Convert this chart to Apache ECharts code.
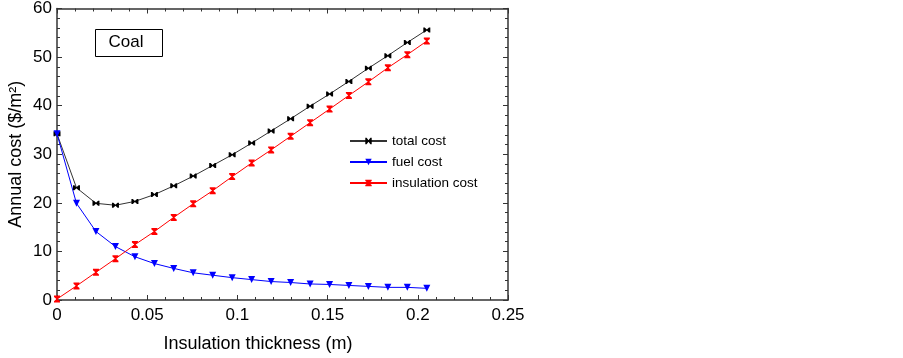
<!DOCTYPE html>
<html>
<head>
<meta charset="utf-8">
<script src="https://cdn.jsdelivr.net/npm/echarts@6/dist/echarts.min.js"></script>
<style>html,body{margin:0;padding:0;background:#fff}#c{width:903px;height:358px}</style>
</head>
<body>
<div id="c"></div>
<script>
const thickness = [0, 0.0108, 0.0216, 0.0324, 0.0432, 0.054, 0.0647, 0.0755, 0.0863, 0.0971, 0.1079, 0.1187, 0.1295, 0.1403, 0.1511, 0.1618, 0.1726, 0.1834, 0.1942, 0.205];
const totalCost = [34.2, 23.1, 19.9, 19.5, 20.3, 21.7, 23.5, 25.5, 27.7, 29.9, 32.3, 34.8, 37.3, 39.9, 42.4, 45.0, 47.7, 50.3, 53.0, 55.6];
const fuelCost = [34.2, 19.9, 14.1, 11.0, 8.9, 7.5, 6.5, 5.6, 5.1, 4.6, 4.2, 3.8, 3.6, 3.3, 3.2, 3.0, 2.8, 2.6, 2.6, 2.4];
const insulationCost = [0.2, 2.9, 5.7, 8.5, 11.4, 14.1, 17.0, 19.8, 22.5, 25.4, 28.2, 30.9, 33.7, 36.5, 39.3, 42.1, 44.9, 47.8, 50.5, 53.3];
const seriesNames = ['total cost', 'fuel cost', 'insulation cost'];
const xTicks = [0, 0.05, 0.1, 0.15, 0.2, 0.25];
const yTicks = [0, 10, 20, 30, 40, 50, 60];

const FONT = "'Liberation Sans', Arial, sans-serif";
const hourglass = 'path://M0,0 L10,0 L10,2 L6,5 L10,8 L10,10 L0,10 L0,8 L4,5 L0,2 Z';
const pairs = ys => thickness.map((x, i) => [x, ys[i]]);
const axisCol = '#333';

function xAx(pos, show) {
  return {
    type: 'value', position: pos, min: xTicks[0], max: xTicks[xTicks.length - 1], interval: 0.05,
    name: show ? 'Insulation thickness (m)' : '', nameLocation: 'middle', nameGap: 35,
    nameTextStyle: { fontFamily: FONT, fontSize: 18, color: '#000', padding: [0, 49, 0, 0] },
    axisLine: { show: true, onZero: false, lineStyle: { color: axisCol, width: 1.5 } },
    axisTick: { show: true, inside: true, length: 5, lineStyle: { color: axisCol } },
    minorTick: { show: true, splitNumber: 5, length: 3, lineStyle: { color: axisCol } },
    axisLabel: { show: show, margin: 7, fontFamily: FONT, fontSize: 17, color: '#000' },
    splitLine: { show: false }, minorSplitLine: { show: false }
  };
}
function yAx(pos, show) {
  return {
    type: 'value', position: pos, min: yTicks[0], max: yTicks[yTicks.length - 1], interval: 10,
    name: show ? 'Annual cost ($/m²)' : '', nameLocation: 'middle', nameGap: 32,
    nameTextStyle: { fontFamily: FONT, fontSize: 18, color: '#000' },
    axisLine: { show: true, onZero: false, lineStyle: { color: axisCol, width: 1.5 } },
    axisTick: { show: true, inside: true, length: 5, lineStyle: { color: axisCol } },
    minorTick: { show: true, splitNumber: 5, length: 3, lineStyle: { color: axisCol } },
    axisLabel: { show: show, margin: 5, fontFamily: FONT, fontSize: 17, color: '#000' },
    splitLine: { show: false }, minorSplitLine: { show: false }
  };
}

const chart = echarts.init(document.getElementById('c'), null, { renderer: 'canvas' });
chart.setOption({
  animation: false,
  backgroundColor: '#fff',
  grid: { left: 57, right: 395, top: 7, bottom: 57, containLabel: false },
  xAxis: [xAx('bottom', true), xAx('top', false)],
  yAxis: [yAx('left', true), yAx('right', false)],
  legend: {
    left: 344, top: 128, orient: 'vertical', itemWidth: 37, itemHeight: 8, itemGap: 5,
    textStyle: { fontFamily: FONT, fontSize: 13.5, color: '#000', lineHeight: 16 },
    data: seriesNames
  },
  graphic: [
    { type: 'rect', left: 95, top: 29, shape: { width: 67, height: 27 }, style: { fill: '#fff', stroke: '#000', lineWidth: 1 } },
    { type: 'text', x: 126, y: 42, style: { text: 'Coal', font: "17px 'Liberation Sans', Arial, sans-serif", fill: '#000', align: 'center', verticalAlign: 'middle' } }
  ],
  series: [
    { name: seriesNames[0], type: 'line', data: pairs(totalCost), color: '#000',
      lineStyle: { width: 1, color: '#333' }, symbol: hourglass, symbolRotate: 90, symbolSize: [5, 7],
      itemStyle: { color: '#000' } },
    { name: seriesNames[1], type: 'line', data: pairs(fuelCost), color: '#0000ff',
      lineStyle: { width: 1, color: '#0000ff' }, symbol: 'triangle', symbolRotate: 180, symbolSize: 7,
      itemStyle: { color: '#0000ff' } },
    { name: seriesNames[2], type: 'line', data: pairs(insulationCost), color: '#ff0000',
      lineStyle: { width: 1, color: '#ff0000' }, symbol: hourglass, symbolSize: [6, 7],
      itemStyle: { color: '#ff0000' } }
  ]
});
</script>
</body>
</html>
